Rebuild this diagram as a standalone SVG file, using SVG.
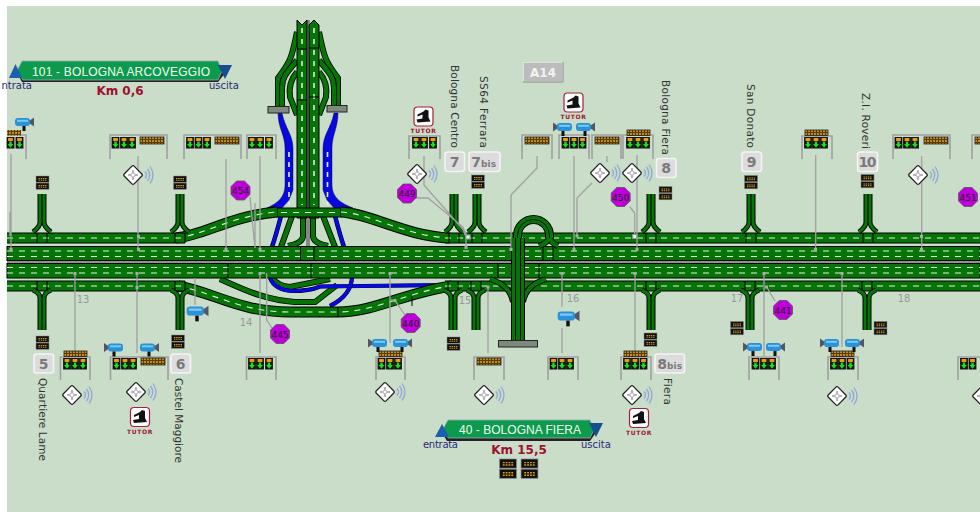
<svg xmlns="http://www.w3.org/2000/svg" width="980" height="512" viewBox="0 0 980 512">
<style>
text{font-family:"DejaVu Sans","Liberation Sans",sans-serif}
.o{fill:none;stroke:#000;stroke-width:11}
.g{fill:none;stroke:#067406;stroke-width:9}
.d{fill:none;stroke:#e6f2e6;stroke-width:1.1;stroke-dasharray:6 6}
.to{fill:none;stroke:#000;stroke-width:6}
.tg{fill:none;stroke:#067406;stroke-width:4.4}
.bl{fill:none;stroke:#0808e0;stroke-width:3.4}
.tick{stroke:#000;stroke-width:1;fill:none}
.gantry{fill:none;stroke:#a0a0a0;stroke-width:1.6}
.lead{fill:none;stroke:#a0a0a0;stroke-width:1.3}
.nd{fill:#aaa}
.nc{fill:#d8f4f4;stroke:#999}
.lab{font-size:10.5px;fill:#333}
.km{font-size:12px;font-weight:bold;fill:#a01030}
.num{font-size:14px;font-weight:bold;fill:#7a7a7a;text-anchor:middle}
.bis{font-size:9px;font-weight:bold;fill:#7a7a7a}
.box{fill:#dcdcdc;stroke:#f4f4f4;stroke-width:1.6}
.oct{fill:#c000dc;stroke:#555;stroke-width:.8}
.ot{font-size:9px;fill:#222;text-anchor:middle}
.km2{font-size:10px;fill:#999;text-anchor:middle}
.tu{font-size:6px;font-weight:bold;fill:#a01030;text-anchor:middle;letter-spacing:.6px}
.io{font-size:10px;fill:#2a2a78}
.sign{fill:#0c9a4c;stroke:#9ab;stroke-width:.8}
.st{font-family:"Liberation Sans",sans-serif;font-size:12px;fill:#f2fff2;text-anchor:middle}
</style>
<defs>
<pattern id="dots" width="3" height="3" patternUnits="userSpaceOnUse"><rect width="3" height="3" fill="#5a3c08"/><rect width="2" height="2" fill="#c08a18"/></pattern>
<path id="r-t1" d="M7,238H185"/><path id="r-t2" d="M445,238H980"/>
<path id="r-b1" d="M7,286H185"/><path id="r-b2" d="M445,286H980"/>
<path id="r-up" d="M176,238C205,235 230,216 277,212"/>
<path id="r-dn" d="M341,212C372,214 405,236 450,238"/>
<path id="r-lo" d="M178,286C215,293 240,312 290,312H338C375,312 410,291 452,286"/>
<g id="sig"><rect x="-3.900" y="0" width="7.800" height="11.500" fill="#111"/><rect x="-2.400" y="1" width="4.800" height="3" fill="#f09a10"/><path d="M-1.200,4.600H1.200V7H3L0,10.800L-3,7H-1.200Z" fill="#18e018"/></g>
<rect id="ban" x="0" y="0" width="24" height="7" fill="url(#dots)" stroke="#222" stroke-width=".8"/>
<rect id="ban2" x="0" y="0" width="23" height="5.500" fill="url(#dots)" stroke="#222" stroke-width=".8"/>
<g id="pmv"><rect x="-6.500" y="0" width="13" height="6.300" fill="#111" stroke="#888" stroke-width=".5"/><rect x="-6.500" y="7" width="13" height="6.300" fill="#111" stroke="#888" stroke-width=".5"/><path d="M-4,2.500H4M-4,4.200H4M-4,9.500H4M-4,11.200H4" stroke="#d8a018" stroke-width="1" stroke-dasharray="1.400 .8"/></g>
<g id="cam"><path d="M5,-1L10,-4.500V4.500L5,1Z" fill="#556"/><rect x="-9" y="-4" width="15" height="8" rx="3" fill="#2a92d8"/><rect x="-7" y="-2.200" width="11" height="2" fill="#7cc8f0"/><rect x="-1.500" y="4" width="3" height="5" fill="#111"/></g>
<g id="dia"><rect x="-7" y="-7" width="14" height="14" rx="1.500" transform="rotate(45)" fill="#fff" stroke="#222" stroke-width="1.300"/><path d="M0,-5L1,-1L5,0L1,1L0,5L-1,1L-5,0L-1,-1Z" fill="none" stroke="#888" stroke-width=".7"/><path d="M12,-3.500Q15,0 12,3.500M14.500,-6Q19,0 14.500,6M17,-8.500Q23,0 17,8.500" fill="none" stroke="#8fa8d8" stroke-width="1.300"/></g>
<g id="tut"><rect x="-9.500" y="-9.500" width="19" height="19" rx="3.500" fill="#fff" stroke="#a82038" stroke-width="1.200"/><path d="M2,-7L5,-6L5,1L7,5L-6,6L-7,3L-1,2L-1,-2L-6,0L-6,-2L0,-5Z" fill="#111"/></g>
<polygon id="octg" points="-3.900,-9.500 3.900,-9.500 9.500,-3.900 9.500,3.900 3.900,9.500 -3.900,9.500 -9.500,3.900 -9.500,-3.900"/>
<g id="spt"><path d="M-2,194V222Q-2,227 -9,232" class="to" style="stroke-width:5"/><path d="M2,194V222Q2,227 9,232" class="to" style="stroke-width:5"/><path d="M-2,194V222Q-2,227 -9,232" class="tg" style="stroke-width:3"/><path d="M2,194V222Q2,227 9,232" class="tg" style="stroke-width:3"/><path d="M-5,233V243M5,233V243" class="tick"/></g>
<g id="spb"><path d="M-2,330V298Q-2,293 -9,290" class="to" style="stroke-width:5"/><path d="M2,330V298Q2,293 9,290" class="to" style="stroke-width:5"/><path d="M-2,330V298Q-2,293 -9,290" class="tg" style="stroke-width:3"/><path d="M2,330V298Q2,293 9,290" class="tg" style="stroke-width:3"/><path d="M-5,281V291M5,281V291" class="tick"/></g>
</defs>

<rect width="980" height="512" fill="#fff"/>
<rect x="7" y="6" width="973" height="506" fill="#c9ddc9"/>

<g id="connectors">
<g id="ramps-under">
<g fill="#0808e0" stroke="#000" stroke-width=".4">
<path d="M278,113H282C285,128 293,135 293,148V190L289,200L282,208H267C278,203 285,197 285,185V148C285,135 278,128 278,113Z"/>
<path d="M338,113H334C331,128 323,135 323,148V190L327,200L334,208H353C340,203 332,197 332,185V148C332,135 338,128 338,113Z"/>
</g>
<path d="M289,152V205M327.500,152V205" class="d" style="stroke-width:1.600;stroke-dasharray:5 5"/>
<g id="ramp-lines">
<path d="M297,32C292,55 292,60 278,78V106" class="to"/><path d="M297,32C292,55 292,60 278,78V106" class="tg"/>
<path d="M297,60C290,70 282,75 282,88V106" class="to"/><path d="M297,60C290,70 282,75 282,88V106" class="tg"/>
<path d="M297,72C290,80 289,90 290,97L297,115" class="to"/><path d="M297,72C290,80 289,90 290,97L297,115" class="tg"/>
<path d="M319,32C324,55 324,60 338,78V106" class="to"/><path d="M319,32C324,55 324,60 338,78V106" class="tg"/>
<path d="M319,60C326,70 334,75 334,88V106" class="to"/><path d="M319,60C326,70 334,75 334,88V106" class="tg"/>
<path d="M319,72C326,80 327,90 326,97L319,115" class="to"/><path d="M319,72C326,80 327,90 326,97L319,115" class="tg"/>
<path d="M281,216Q276,235 272,247M335,216Q340,235 344,247" fill="none" stroke="#000" stroke-width="4.500"/>
<path d="M281,216Q276,235 272,247M335,216Q340,235 344,247" class="bl"/>
<path d="M292,216L281,247M303,216V236Q303,243 288,246M313,216V236Q313,243 328,246M323,216L335,247" class="to"/>
<path d="M292,216L281,247M303,216V236Q303,243 288,246M313,216V236Q313,243 328,246M323,216L335,247" class="tg"/>
<path d="M220,279C245,290 265,300 295,302H315L337,285" class="to"/><path d="M220,279C245,290 265,300 295,302H315L337,285" class="tg"/>
<path d="M272,278Q278,286 290,287L330,279" class="to"/><path d="M272,278Q278,286 290,287L330,279" class="tg"/>
<path d="M270,278Q275,290 292,291Q310,291 320,286.500L448,285" fill="none" stroke="#000" stroke-width="4.200"/>
<path d="M270,278Q275,290 292,291Q310,291 320,286.500L448,285" class="bl"/>
<path d="M352,276Q352,295 330,306" fill="none" stroke="#000" stroke-width="4.200"/><path d="M352,276Q352,295 330,306" class="bl"/>
</g>
</g>

<g id="vertical-road">
<rect x="306" y="20" width="4" height="228" fill="#888"/>
<path d="M297,20L302,25L307,20V218H297ZM309,25L314,20L319,25V218H309Z" fill="#067406" stroke="#000" stroke-width="1"/>
<path d="M302,28V205M314,28V205" class="d" style="stroke-width:1.500;stroke-dasharray:5 6"/>
<path d="M297,49H307M297,100H307M309,48H319M309,97H319" class="tick"/>
<rect x="268" y="106.500" width="21" height="6.500" fill="#7f8a7f" stroke="#222"/>
<rect x="327" y="105.500" width="20" height="6.500" fill="#7f8a7f" stroke="#222"/>
<rect x="277" y="208" width="64" height="9" fill="#067406" stroke="#000"/>
<path d="M281,212.500H338" class="d"/>
</g>

<g id="main-roads">
<rect x="7" y="260" width="973" height="4" fill="#8a968a"/>
<rect x="7" y="246.500" width="973" height="14" fill="#067406" stroke="#000"/>
<rect x="7" y="263.500" width="973" height="14.500" fill="#067406" stroke="#000"/>
<path d="M7,251H980M7,256.500H980M7,267.500H980M7,273H980" class="d" style="stroke-width:1.200"/>
<path d="M300.500,247V260M314,247V260M543,247V260M553,247V260M228,264V278M311,264V278M498,264V278M539,264V278" class="tick"/>
<use href="#r-up" class="o"/><use href="#r-up" class="g"/><use href="#r-up" class="d"/>
<use href="#r-dn" class="o"/><use href="#r-dn" class="g"/><use href="#r-dn" class="d"/>
<use href="#r-lo" class="o"/><use href="#r-lo" class="g"/><use href="#r-lo" class="d"/>
<use href="#r-t1" class="o"/><use href="#r-t1" class="g"/><use href="#r-t1" class="d"/>
<use href="#r-t2" class="o"/><use href="#r-t2" class="g"/><use href="#r-t2" class="d"/>
<use href="#r-b1" class="o"/><use href="#r-b1" class="g"/><use href="#r-b1" class="d"/>
<use href="#r-b2" class="o"/><use href="#r-b2" class="g"/><use href="#r-b2" class="d"/>
<path d="M338,307V317M412,296V306" class="tick"/>
</g>

<g id="spurs">
<use href="#spt" x="42"/><use href="#spt" x="180"/><use href="#spt" x="454"/><use href="#spt" x="477"/><use href="#spt" x="651"/><use href="#spt" x="751"/><use href="#spt" x="868"/>
<use href="#spb" x="42"/><use href="#spb" x="180"/><use href="#spb" x="453"/><use href="#spb" x="476"/><use href="#spb" x="651"/><use href="#spb" x="750"/><use href="#spb" x="867"/>
</g>

<g id="fiera-loop">
<path d="M490,279Q510,285 513,302M546,279Q526,285 523,302" fill="none" stroke="#000" stroke-width="6"/>
<path d="M490,279Q510,285 513,302M546,279Q526,285 523,302" fill="none" stroke="#067406" stroke-width="4"/>
<path d="M549.500,237Q548,243 539,246M549.500,237Q551,243 558,246" class="to"/>
<path d="M549.500,237Q548,243 539,246M549.500,237Q551,243 558,246" class="tg"/>
<path d="M517.500,260V235.500A16,16 0 0 1 549.500,235.500V238" fill="none" stroke="#000" stroke-width="9"/>
<path d="M517.500,260V235.500A16,16 0 0 1 549.500,235.500V238" fill="none" stroke="#067406" stroke-width="7"/>
<path d="M517.500,260V235.500A16,16 0 0 1 549.500,235.500V238" fill="none" stroke="#000" stroke-width=".8"/>
<rect x="511" y="238" width="14" height="103" fill="#000"/>
<path d="M512,238H515V341H512ZM516,238H520V341H516ZM521,238H524V341H521Z" fill="#067406"/>
<rect x="498.500" y="340.500" width="39" height="6.500" fill="#7f8a7f" stroke="#222"/>
</g>

<g id="leaders">
<path class="lead" d="M11,154V250M10,212V236M138,156V250M226,159V250M260,156V250M255,203V248L250,197M75,273V352M137,273V353M260,273V353M266.700,273V320L272,328M195,278V305M390,273V343M391,300L395,300.700L405,315M488,287V353M562,273V307M562,328V353M635,273V353"/>
<path class="lead" d="M424,156V185L466,233V248M416,198H428L463,227L465,235M537,156V168L511,195V250M574,156V250M607,156V162M592,183L577,198V236M637,155V250M630,207L634.700,213V236M815.700,155V249M921.700,156V250M764,273V356M766.700,287L775,301M842,273V347"/>
<g class="nd">
<rect x="9.500" y="248" width="3" height="3"/><rect x="137" y="235" width="3" height="3"/><rect x="137" y="248" width="3" height="3"/><rect x="224.500" y="248" width="3" height="3"/><rect x="258.500" y="248" width="3" height="3"/>
<rect x="73.500" y="272" width="3" height="3"/><rect x="135.500" y="272" width="3" height="3"/><rect x="135.500" y="286" width="3" height="3"/><rect x="258.500" y="272" width="3" height="3"/><rect x="388.500" y="272" width="3" height="3"/><rect x="393.500" y="299" width="3" height="3"/><rect x="486.500" y="285.500" width="3" height="3"/><rect x="560.500" y="272" width="3" height="3"/><rect x="633.500" y="272" width="3" height="3"/>
<rect x="464.500" y="246" width="3" height="3"/><rect x="509.500" y="248" width="3" height="3"/><rect x="572.500" y="248" width="3" height="3"/><rect x="575.500" y="234.500" width="3" height="3"/><rect x="635.500" y="248" width="3" height="3"/><rect x="814" y="248" width="3" height="3"/><rect x="920" y="235" width="3" height="3"/><rect x="920" y="248" width="3" height="3"/><rect x="762.500" y="272" width="3" height="3"/><rect x="765" y="285.500" width="3" height="3"/><rect x="840.500" y="272" width="3" height="3"/>
</g>
<rect x="466" y="235" width="4" height="4" class="nc"/><rect x="632.700" y="234.500" width="4" height="4" class="nc"/>
</g>
</g>

<g id="portal-top-a"><path class="gantry" d="M7,135H26V159"/><use href="#sig" x="10.500" y="137"/><use href="#sig" x="19.500" y="137"/><rect x="7" y="130" width="14" height="5.500" fill="url(#dots)"/></g>
<g id="portal-top-b"><path class="gantry" d="M110,159V135H167V159"/><use href="#sig" x="115.500" y="137"/><use href="#sig" x="124" y="137"/><use href="#sig" x="132" y="137"/><use href="#ban" x="140" y="137"/></g>
<g id="portal-top-c"><path class="gantry" d="M184,159V135H241V159"/><use href="#sig" x="190" y="137"/><use href="#sig" x="198.500" y="137"/><use href="#sig" x="207" y="137"/><use href="#ban" x="215" y="137"/></g>
<g id="portal-top-d"><path class="gantry" d="M247,159V135H276V159"/><use href="#sig" x="252" y="137"/><use href="#sig" x="260" y="137"/><use href="#sig" x="269" y="137"/></g>
<g id="portal-top-e"><path class="gantry" d="M409,159V136H440V159"/><use href="#sig" x="416" y="137"/><use href="#sig" x="424" y="137"/><use href="#sig" x="433" y="137"/></g>
<g id="portal-top-f"><path class="gantry" d="M522,159V135H552V159"/><use href="#ban" x="525" y="137"/></g>
<g id="portal-top-g"><path class="gantry" d="M559,159V135H589V159"/><use href="#sig" x="565.500" y="137"/><use href="#sig" x="574" y="137"/><use href="#sig" x="582.500" y="137"/></g>
<g id="portal-top-h"><path class="gantry" d="M592,159V135H621V159"/><use href="#ban" x="595" y="137"/></g>
<g id="portal-top-i"><path class="gantry" d="M623,159V135H653V159"/><use href="#sig" x="630" y="137"/><use href="#sig" x="638" y="137"/><use href="#sig" x="646" y="137"/><use href="#ban2" x="627" y="130"/></g>
<g id="portal-top-j"><path class="gantry" d="M802,159V136H832V159"/><use href="#sig" x="808" y="137"/><use href="#sig" x="816" y="137"/><use href="#sig" x="824" y="137"/><use href="#ban2" x="805" y="130"/></g>
<g id="portal-top-k"><path class="gantry" d="M893,159V135H950V159"/><use href="#sig" x="898.500" y="137"/><use href="#sig" x="907" y="137"/><use href="#sig" x="915" y="137"/><use href="#ban" x="924" y="137"/></g>
<g id="portal-top-l"><path class="gantry" d="M972,159V135H980"/><use href="#ban" x="975" y="137"/></g>

<g id="portal-bot-a"><path class="gantry" d="M60.500,380V357H90V380"/><use href="#sig" x="67" y="358"/><use href="#sig" x="75" y="358"/><use href="#sig" x="83" y="358"/><use href="#ban2" x="64" y="351"/></g>
<g id="portal-bot-b"><path class="gantry" d="M110.500,380V357H168V380"/><use href="#sig" x="116.500" y="358"/><use href="#sig" x="125" y="358"/><use href="#sig" x="133" y="358"/><use href="#ban" x="141" y="358"/></g>
<g id="portal-bot-c"><path class="gantry" d="M246.500,380V357H276V380"/><use href="#sig" x="252" y="358"/><use href="#sig" x="260" y="358"/><use href="#sig" x="269" y="358"/></g>
<g id="portal-bot-d"><path class="gantry" d="M376,380V357H405V380"/><use href="#sig" x="381.500" y="358"/><use href="#sig" x="390" y="358"/><use href="#sig" x="398" y="358"/><use href="#ban2" x="379" y="351"/></g>
<g id="portal-bot-e"><path class="gantry" d="M474,380V357H504V380"/><use href="#ban" x="477" y="358"/></g>
<g id="portal-bot-f"><path class="gantry" d="M548,380V357H578V380"/><use href="#sig" x="553.500" y="358"/><use href="#sig" x="562" y="358"/><use href="#sig" x="570" y="358"/></g>
<g id="portal-bot-g"><path class="gantry" d="M621,380V357H651V380"/><use href="#sig" x="627" y="358"/><use href="#sig" x="635" y="358"/><use href="#sig" x="643.500" y="358"/><use href="#ban2" x="624" y="351"/></g>
<g id="portal-bot-h"><path class="gantry" d="M749,380V357H779V380"/><use href="#sig" x="755.500" y="358"/><use href="#sig" x="764" y="358"/><use href="#sig" x="772" y="358"/></g>
<g id="portal-bot-i"><path class="gantry" d="M828,380V357H858V380"/><use href="#sig" x="834" y="358"/><use href="#sig" x="842" y="358"/><use href="#sig" x="850.500" y="358"/><use href="#ban2" x="831" y="351"/></g>
<g id="portal-bot-j"><path class="gantry" d="M958,380V357H980"/><use href="#sig" x="964" y="358"/><use href="#sig" x="972.500" y="358"/></g>

<g id="cameras">
<use href="#cam" transform="translate(24,122)"/>
<use href="#cam" transform="translate(563,127) scale(-1,1)"/><use href="#cam" transform="translate(585,127)"/>
<use href="#cam" transform="translate(114,347.500) scale(-1,1)"/><use href="#cam" transform="translate(149,347.500)"/>
<use href="#cam" transform="translate(197,311) scale(1.150)"/><use href="#cam" transform="translate(568,316) scale(1.150)"/>
<use href="#cam" transform="translate(378,343) scale(-1,1)"/><use href="#cam" transform="translate(402,343)"/>
<use href="#cam" transform="translate(753,347) scale(-1,1)"/><use href="#cam" transform="translate(775,347)"/>
<use href="#cam" transform="translate(830,343) scale(-1,1)"/><use href="#cam" transform="translate(854,343)"/>
</g>

<g id="sensors">
<use href="#dia" x="133" y="175"/><use href="#dia" x="417" y="174"/><use href="#dia" x="600" y="173"/><use href="#dia" x="632" y="173"/><use href="#dia" x="918" y="175"/>
<use href="#dia" x="72" y="395"/><use href="#dia" x="136" y="392"/><use href="#dia" x="385" y="392"/><use href="#dia" x="484" y="395"/><use href="#dia" x="632" y="395"/><use href="#dia" x="837" y="396"/><use href="#dia" x="982" y="396"/>
</g>

<g id="vms">
<use href="#pmv" x="42.500" y="176"/><use href="#pmv" x="180" y="176"/><use href="#pmv" x="478" y="175"/><use href="#pmv" x="665.500" y="186.500"/><use href="#pmv" x="751" y="175.500"/><use href="#pmv" x="867.500" y="174.500"/>
<use href="#pmv" x="42.500" y="336"/><use href="#pmv" x="178" y="335"/><use href="#pmv" x="453.500" y="337"/><use href="#pmv" x="650.500" y="333"/><use href="#pmv" x="737" y="321.500"/><use href="#pmv" x="880.500" y="321.500"/>
<g transform="translate(508,459) scale(1.300,1.450)"><use href="#pmv"/></g><g transform="translate(529.500,459) scale(1.300,1.450)"><use href="#pmv"/></g>
</g>

<g id="tutor-1"><use href="#tut" x="423.500" y="116.500"/><text class="tu" x="423.500" y="133">TUTOR</text></g>
<g id="tutor-2"><use href="#tut" x="573.500" y="102.500"/><text class="tu" x="573.500" y="119">TUTOR</text></g>
<g id="tutor-3"><use href="#tut" x="140" y="417"/><text class="tu" x="140" y="433.500">TUTOR</text></g>
<g id="tutor-4"><use href="#tut" x="639" y="418"/><text class="tu" x="639" y="434.500">TUTOR</text></g>

<g id="oct-454"><use href="#octg" class="oct" x="240.500" y="190.500"/><text class="ot" x="240.500" y="194">454</text></g>
<g id="oct-449"><use href="#octg" class="oct" x="407" y="193.500"/><text class="ot" x="407" y="197">449</text></g>
<g id="oct-450"><use href="#octg" class="oct" x="620.700" y="197"/><text class="ot" x="620.700" y="200.500">450</text></g>
<g id="oct-451"><use href="#octg" class="oct" x="968" y="197"/><text class="ot" x="968" y="200.500">451</text></g>
<g id="oct-445"><use href="#octg" class="oct" x="280" y="334"/><text class="ot" x="280" y="337.500">445</text></g>
<g id="oct-440"><use href="#octg" class="oct" x="410.700" y="323"/><text class="ot" x="410.700" y="326.500">440</text></g>
<g id="oct-441"><use href="#octg" class="oct" x="783" y="310"/><text class="ot" x="783" y="313.500">441</text></g>

<g id="exit-5"><rect class="box" x="34" y="354" width="19.500" height="19" rx="2.500"/><text class="num" x="43.700" y="368.500">5</text><text class="lab" transform="translate(39,378) rotate(90)" textLength="83" lengthAdjust="spacing">Quartiere Lame</text></g>
<g id="exit-6"><rect class="box" x="171" y="354" width="19.500" height="19" rx="2.500"/><text class="num" x="180.700" y="368.500">6</text><text class="lab" transform="translate(175,378) rotate(90)" textLength="85" lengthAdjust="spacing">Castel Maggiore</text></g>
<g id="exit-7"><rect class="box" x="445" y="152" width="19.500" height="19.500" rx="2.500"/><text class="num" x="454.700" y="167">7</text><text class="lab" transform="translate(451,65) rotate(90)" textLength="83" lengthAdjust="spacing">Bologna Centro</text></g>
<g id="exit-7bis"><rect class="box" x="469" y="152" width="31" height="19.500" rx="2.500"/><text class="num" x="476" y="167">7</text><text class="bis" x="481" y="167" textLength="15" lengthAdjust="spacing">bis</text><text class="lab" transform="translate(480,76) rotate(90)" textLength="72" lengthAdjust="spacing">SS64 Ferrara</text></g>
<g id="exit-8"><rect class="box" x="656.500" y="158.500" width="19.500" height="19" rx="2.500"/><text class="num" x="666.200" y="173">8</text><text class="lab" transform="translate(662,80) rotate(90)" textLength="75" lengthAdjust="spacing">Bologna Fiera</text></g>
<g id="exit-8bis"><rect class="box" x="655" y="354" width="29.500" height="19" rx="2.500"/><text class="num" x="662" y="368.500">8</text><text class="bis" x="667" y="368.500" textLength="15" lengthAdjust="spacing">bis</text><text class="lab" transform="translate(664,378) rotate(90)" textLength="27" lengthAdjust="spacing">Fiera</text></g>
<g id="exit-9"><rect class="box" x="742" y="152" width="19.500" height="19.500" rx="2.500"/><text class="num" x="751.700" y="167">9</text><text class="lab" transform="translate(747,84) rotate(90)" textLength="64" lengthAdjust="spacing">San Donato</text></g>
<g id="exit-10"><rect class="box" x="857.500" y="152" width="20" height="19.500" rx="2.500"/><text class="num" x="867.500" y="167" textLength="18" lengthAdjust="spacing">10</text><text class="lab" transform="translate(862,93) rotate(90)" textLength="56" lengthAdjust="spacing">Z.I. Roveri</text></g>

<g id="km-marks">
<text class="km2" x="83" y="303">13</text><text class="km2" x="246" y="326">14</text><text class="km2" x="465" y="304">15</text><text class="km2" x="573" y="302">16</text><text class="km2" x="737" y="302">17</text><text class="km2" x="904" y="302">18</text>
</g>

<g id="a14"><rect x="523.500" y="62.500" width="39" height="19" fill="#bcbcbc" stroke="#e0e0e0"/><path d="M563,62V82H523" fill="none" stroke="#8a8a8a"/><text x="543" y="76.500" font-size="12" font-weight="bold" fill="#f2f2f2" text-anchor="middle">A14</text></g>

<g id="area-101">
<path d="M22,64L16,71L22,82H218L226,72L219,64Z" fill="#222"/>
<path class="sign" d="M22,61H218L222,71L218,80H23L17,71Z"/>
<text class="st" x="121" y="75.500" textLength="178" lengthAdjust="spacing">101 - BOLOGNA ARCOVEGGIO</text>
<path d="M9,78L15.500,64L22,78Z" fill="#1c5fb0"/><path d="M218,65H232L225,79Z" fill="#164f90"/>
<text class="io" x="32" y="89" text-anchor="end">ntrata</text><text class="io" x="209" y="89">uscita</text>
<text class="km" x="120" y="95" text-anchor="middle">Km 0,6</text>
</g>
<g id="area-40">
<path d="M447,424L441,431L447,441H590L597,431L590,424Z" fill="#222"/>
<path class="sign" d="M448,420H590L594,430L590,438H448L443,429Z"/>
<text class="st" x="520" y="434" textLength="122" lengthAdjust="spacing">40 - BOLOGNA FIERA</text>
<path d="M435,437L442,424L449,437Z" fill="#1c5fb0"/><path d="M589,423H603L596,437Z" fill="#164f90"/>
<text class="io" x="423" y="448" textLength="35" lengthAdjust="spacing">entrata</text><text class="io" x="581" y="448">uscita</text>
<text class="km" x="519" y="454" text-anchor="middle">Km 15,5</text>
</g>
</svg>
